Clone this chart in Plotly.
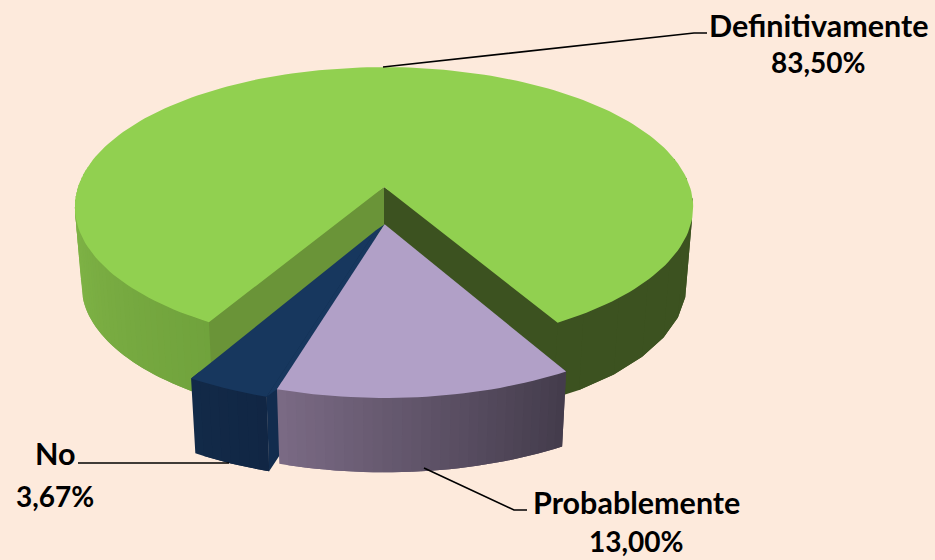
import math
import plotly.graph_objects as go

categories = ["Definitivamente", "Probablemente", "No"]
values = [83.50, 13.00, 3.67]
explode_x = [0.0, 0.002, -0.024]
explode_y = [0.0, -0.262, -0.30]
top_colors = ["#91D050", "#B1A0C7", "#17375E"]

BG = "#FDEADC"
CX, CY, A, B, K = 384.0, 187.0, 306.0, 137.0, 1 / 7
DEPTH, SHRINK = 79.0, 0.022
START = 239.9  # angle where the first slice begins, clockwise from here


def project(c, s, z=0.0):
    w = 1 + K * s
    f = 1 - SHRINK * z
    return CX + A * c / w * f, CY + DEPTH * z - B * s / w * f


def pt(theta, ex, ey, z=0.0, r=1.0):
    t = math.radians(theta)
    return project(r * math.cos(t) + ex, r * math.sin(t) + ey, z)


def lerp(c1, c2, t):
    return "rgb(%d,%d,%d)" % tuple(round(a + (b - a) * t) for a, b in zip(c1, c2))


fig = go.Figure()


def poly(points, color):
    xs = [p[0] for p in points] + [points[0][0]]
    ys = [p[1] for p in points] + [points[0][1]]
    fig.add_trace(go.Scatter(x=xs, y=ys, mode="lines", fill="toself", fillcolor=color,
                             line=dict(width=0), hoverinfo="skip", showlegend=False))


def rim(a0, a1, ex, ey, c0, c1, step=1.5):
    n = max(1, int(abs(a1 - a0) / step))
    d = (a1 - a0) / n
    for i in range(n):
        t0 = a0 + d * i
        t1 = a0 + d * min(i + 2, n)  # overlaps the next band, which paints over it
        tm = (t0 + t1) / 2
        # the upper side runs under the top face so that no edge shows through
        poly([pt(t0, ex, ey), pt(t0, ex, ey, r=0.96), pt(tm, ex, ey, r=0.96), pt(t1, ex, ey, r=0.96),
              pt(t1, ex, ey), pt(t1, ex, ey, 1), pt(tm, ex, ey, 1), pt(t0, ex, ey, 1)],
             lerp(c0, c1, i / max(1, n - 1)))


def wall(theta, inner, ex, ey, color):
    poly([project(ex, ey), pt(theta + inner, ex, ey), pt(theta, ex, ey),
          pt(theta, ex, ey, 1), project(ex, ey, 1)], color)


def top(a0, a1, ex, ey, color):
    n = int(abs(a1 - a0) / 1.5) + 1
    pts = [project(ex, ey)] + [pt(a0 + (a1 - a0) * i / n, ex, ey) for i in range(n + 1)]
    poly(pts, color)


total = sum(values)
spans = [v / total * 360 for v in values]
g0 = START
g1 = g0 - spans[0]          # clockwise through the back of the pie
p0 = g1
p1 = p0 - spans[1]
n0 = p1
n1 = n0 - spans[2]
norm = lambda a: a % 360

# Definitivamente
ex, ey = explode_x[0], explode_y[0]
rim(170, g0 + 2, ex, ey, (133, 186, 74), (112, 162, 60))
rim(norm(g1) - 3, 372, ex, ey, (60, 82, 32), (60, 82, 32), step=8)
wall(g0, -4, ex, ey, "#6A9438")
wall(norm(g1), 4, ex, ey, "#3C5220")
top(g0, g1, ex, ey, top_colors[0])

# No
ex, ey = explode_x[2], explode_y[2]
wall(norm(n0), -4, ex, ey, "#122C4E")
rim(norm(n1), norm(n0), ex, ey, (18, 42, 72), (17, 38, 68))
top(norm(n0), norm(n1), ex, ey, top_colors[2])
# the navy top reaches the edge of the lavender slice
lx, ly = explode_x[1], explode_y[1]
poly([project(ex, ey), project(lx, ly), pt(norm(p1), lx, ly), pt(norm(n0), ex, ey)], top_colors[2])

# Probablemente
ex, ey = lx, ly
rim(norm(p1), norm(p0), ex, ey, (122, 106, 132), (68, 60, 76))
top(norm(p0), norm(p1), ex, ey, top_colors[1])

# Leader lines
leaders = [
    ([383, 694, 707], [67, 33, 33]),
    ([424, 514, 527], [468, 510, 510]),
    ([229, 78], [463, 463]),
]
for lx, ly in leaders:
    fig.add_trace(go.Scatter(x=lx, y=ly, mode="lines", line=dict(color="#000000", width=1.6),
                             hoverinfo="skip", showlegend=False))


def pct(v):
    return f"{v:.2f}%".replace(".", ",")


label_pos = [
    ((818, 25), (818, 62)),
    ((636, 502), (636, 541)),
    ((55, 453), (55, 496)),
]
for cat, v, (p_name, p_val) in zip(categories, values, label_pos):
    for txt, (x, y), sz in ((cat, p_name, 30.5), (pct(v), p_val, 28)):
        fig.add_annotation(x=x, y=y, text=f"<b>{txt}</b>", showarrow=False, xanchor="center",
                           yanchor="middle", font=dict(family="Lato, Carlito, sans-serif", size=sz, color="#000000"))

fig.update_layout(
    width=935, height=560, margin=dict(l=0, r=0, t=0, b=0),
    paper_bgcolor=BG, plot_bgcolor=BG, showlegend=False,
    xaxis=dict(range=[0, 935], visible=False, fixedrange=True),
    yaxis=dict(range=[560, 0], visible=False, fixedrange=True),
)
fig.write_html("out.html", config={"displayModeBar": False},
               post_script="document.body.style.margin='0';document.body.style.background='" + BG + "';document.documentElement.style.overflow='hidden';")
